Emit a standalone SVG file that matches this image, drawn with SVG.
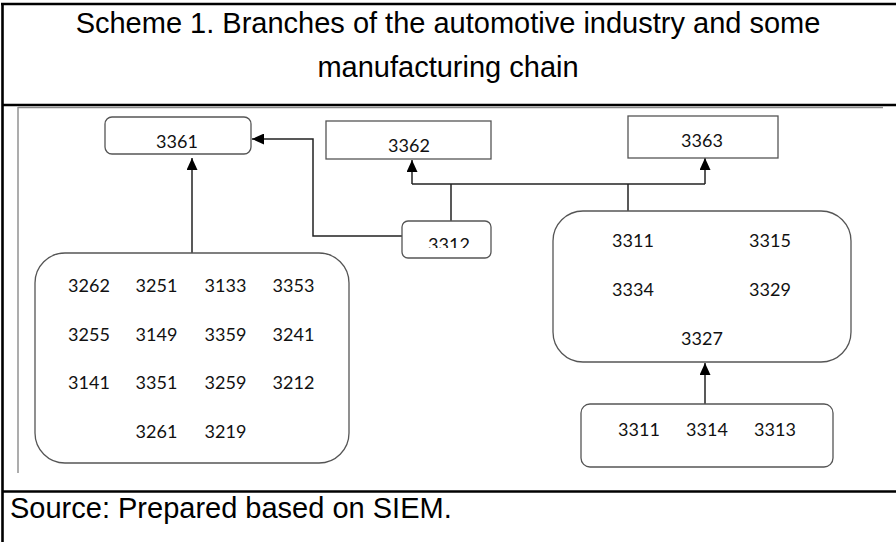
<svg xmlns="http://www.w3.org/2000/svg" width="896" height="542" viewBox="0 0 896 542">
<style>
.frame{stroke:#000;stroke-width:2.6;fill:none}
.inner{stroke:#8a8a8a;stroke-width:1.4;fill:none}
.title{font-family:"Liberation Sans",Arial,sans-serif;font-size:29px;fill:#000}
.box{fill:#fff;stroke:#555;stroke-width:1.3}
.num{font-family:Lato,"Open Sans",sans-serif;font-size:18px;fill:#111;text-anchor:middle}
.conn{stroke:#222;stroke-width:1.5;fill:none}
</style>
<defs>
<marker id="arr" markerUnits="userSpaceOnUse" markerWidth="12" markerHeight="11" viewBox="0 0 12 11" refX="12" refY="5.5" orient="auto">
<path d="M0,0 L12,5.5 L0,11 z" fill="#000"/>
</marker>
<clipPath id="clip3312"><rect x="402" y="222" width="89" height="26"/></clipPath>
</defs>
<rect width="896" height="542" fill="#fff"/>
<g id="frame">
<line class="frame" x1="1" y1="4" x2="896" y2="4"/>
<line class="frame" x1="2.5" y1="3" x2="2.5" y2="542"/>
<line class="frame" x1="2" y1="105" x2="896" y2="105"/>
<line class="frame" x1="2" y1="491.5" x2="896" y2="491.5"/>
<line class="inner" x1="18" y1="107.5" x2="883" y2="107.5"/>
<line class="inner" x1="18" y1="107" x2="18" y2="473"/>
</g>
<g id="title">
<text class="title" x="448" y="33" text-anchor="middle">Scheme 1. Branches of the automotive industry and some</text>
<text class="title" x="448" y="77" text-anchor="middle">manufacturing chain</text>
</g>
<g id="source">
<text class="title" x="10" y="518">Source: Prepared based on SIEM.</text>
</g>
<g id="connectors">
<path class="conn" d="M192,253 V158" marker-end="url(#arr)"/>
<path class="conn" d="M402,236 H313 V139 H252" marker-end="url(#arr)"/>
<path class="conn" d="M451,221 V184"/>
<path class="conn" d="M628,211 V184"/>
<path class="conn" d="M412,184 H705"/>
<path class="conn" d="M412,184 V160" marker-end="url(#arr)"/>
<path class="conn" d="M705,184 V158" marker-end="url(#arr)"/>
<path class="conn" d="M705,404 V363" marker-end="url(#arr)"/>
</g>
<g id="n3361">
<rect class="box" x="105" y="117" width="146" height="37" rx="7"/>
<text class="num" x="177" y="148">3361</text>
</g>
<g id="n3362">
<rect class="box" x="326" y="121" width="165" height="38"/>
<text class="num" x="409" y="152">3362</text>
</g>
<g id="n3363">
<rect class="box" x="628" y="116" width="150" height="42"/>
<text class="num" x="702" y="147">3363</text>
</g>
<g id="n3312">
<rect class="box" x="402" y="221" width="89" height="37" rx="6"/>
<text class="num" x="449" y="251" clip-path="url(#clip3312)">3312</text>
</g>
<g id="left-group">
<rect class="box" x="35" y="253" width="314" height="210" rx="30"/>
<text class="num" x="89" y="292">3262</text>
<text class="num" x="156.5" y="292">3251</text>
<text class="num" x="225.5" y="292">3133</text>
<text class="num" x="293.5" y="292">3353</text>
<text class="num" x="89" y="341">3255</text>
<text class="num" x="156.5" y="341">3149</text>
<text class="num" x="225.5" y="341">3359</text>
<text class="num" x="293.5" y="341">3241</text>
<text class="num" x="89" y="389">3141</text>
<text class="num" x="156.5" y="389">3351</text>
<text class="num" x="225.5" y="389">3259</text>
<text class="num" x="293.5" y="389">3212</text>
<text class="num" x="156.5" y="438">3261</text>
<text class="num" x="225.5" y="438">3219</text>
</g>
<g id="right-group">
<rect class="box" x="553" y="211" width="298" height="151" rx="30"/>
<text class="num" x="633" y="247">3311</text>
<text class="num" x="770" y="247">3315</text>
<text class="num" x="633" y="296">3334</text>
<text class="num" x="770" y="296">3329</text>
<text class="num" x="702" y="345">3327</text>
</g>
<g id="bottom-group">
<rect class="box" x="581" y="404" width="252" height="63" rx="9"/>
<text class="num" x="639" y="436">3311</text>
<text class="num" x="707" y="436">3314</text>
<text class="num" x="775" y="436">3313</text>
</g>
</svg>
